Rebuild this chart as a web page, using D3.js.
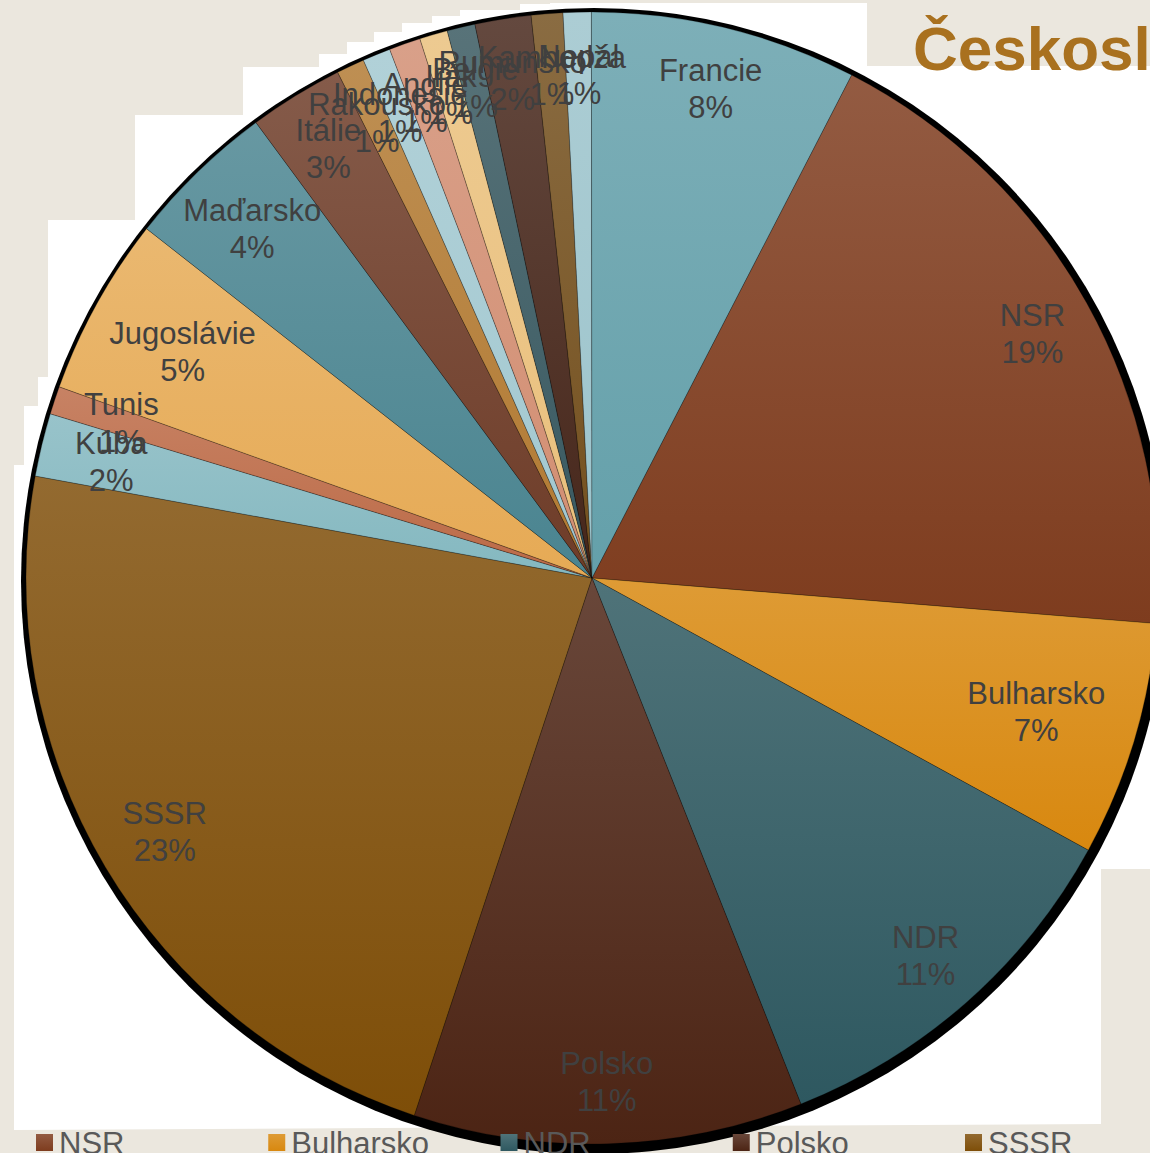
<!DOCTYPE html>
<html><head><meta charset="utf-8">
<script src="https://cdn.jsdelivr.net/npm/d3@7"></script>
<style>html,body{margin:0;padding:0;background:#ebe7de;overflow:hidden}svg{display:block}</style>
</head><body>
<svg id="chart" width="1150" height="1153"></svg>
<script>
// ---- data (shares, percent of total) ----
const countries = ["NSR","Bulharsko","NDR","Polsko","SSSR","Kuba","Tunis","Jugoslávie","Maďarsko","Itálie","Rakousko","Indonesie","Anglie","Irák","Belgie","Rumunsko","Kambodža","Nepál","Francie"];
const values    = [18.7, 6.7, 11.0, 11.1, 22.8, 1.8, 0.8, 5.1, 4.3, 2.7, 0.8, 0.8, 0.9, 0.8, 0.8, 1.6, 0.9, 0.8, 7.6];
const colors    = ["#7e3c1e","#d8880f","#2e5860","#4c2414","#7e4e08","#84b8c0","#bc6a46","#e6aa55","#4a8490","#6e3c28","#b27a32","#a2c8d0","#d28e72","#eac07c","#385860","#46261a","#74501e","#9cc4cc","#64a0aa"];
const legendItems = ["NSR","Bulharsko","NDR","Polsko","SSSR"];
const title = "Československo";
const firstSliceAngle = 27.3; // degrees

const W = 1150, H = 1153;
const cx = 592, cy = 578, R = 566;
const svg = d3.select("#chart");
const defs = svg.append("defs");

function gradId(i){ return "g"+i; }
colors.forEach((c,i)=>{
  const g = defs.append("linearGradient").attr("id",gradId(i))
    .attr("x1",0).attr("y1",0).attr("x2",0).attr("y2",1);
  g.append("stop").attr("offset","0%").attr("stop-color", d3.interpolateRgb(c,"#ffffff")(0.16));
  g.append("stop").attr("offset","100%").attr("stop-color", c);
});

// background + white plot area
svg.append("rect").attr("width",W).attr("height",H).attr("fill","#ebe7de");
const stairs = [[550,3],[867,3],[867,66],[1150,66],[1150,869],[1101,869],[1101,1124],[14,1130],[14,465],[24,465],[24,406],[38,406],[38,377],[48,377],[48,220],[135,220],[135,115],[243,115],[243,67],[319,67],[319,54],[347,54],[347,42],[374,42],[374,32],[402,32],[402,23],[432,23],[432,16],[460,16],[460,10],[520,10],[520,4],[550,4]];
svg.append("path").attr("d", d3.line()(stairs)+"Z").attr("fill","#ffffff");

// title
svg.append("text").attr("x",913).attr("y",70)
  .attr("font-family","'Liberation Sans', Arial, sans-serif").attr("font-weight","bold")
  .attr("font-size",62).attr("fill","#a9711f").text(title);

// shadow
svg.append("circle").attr("cx",cx+2).attr("cy",cy+3).attr("r",R+7).attr("fill","#000");

// pie
const total = d3.sum(values);
const data = countries.map((c,i)=>({name:c, value:values[i], idx:i}));
const a0 = firstSliceAngle*Math.PI/180;
const pie = d3.pie().value(d=>d.value).sort(null).startAngle(a0).endAngle(a0+2*Math.PI);
const arcs = pie(data);
const arc = d3.arc().innerRadius(0).outerRadius(R);
const g = svg.append("g").attr("transform",`translate(${cx},${cy})`);
g.selectAll("path.slice").data(arcs).enter().append("path")
  .attr("class","slice").attr("d",arc)
  .attr("fill",d=>`url(#${gradId(d.data.idx)})`)
  .attr("stroke","rgba(0,0,0,0.35)").attr("stroke-width",0.7);

// labels
const fs = 31, lh = 37;
const font = "'Liberation Sans', Arial, sans-serif";
const measure = svg.append("text").attr("font-family",font).attr("font-size",fs).attr("visibility","hidden");
function textW(s){ measure.text(s); return measure.node().getComputedTextLength(); }
arcs.forEach(d=>{
  const pct = Math.round(d.data.value/total*100)+"%";
  const w = Math.max(textW(d.data.name), textW(pct));
  const mid = (d.startAngle+d.endAngle)/2;
  const gap = 36;
  let r = 0.89*R;
  for(; r>0.6*R; r-=1){
    const x = r*Math.sin(mid), y = -r*Math.cos(mid);
    const chord = Math.sqrt(Math.max(0, R*R - y*y));
    if (Math.abs(x) + w/2 <= chord - gap) break;
  }
  const x = r*Math.sin(mid), y = -r*Math.cos(mid);
  const t = g.append("text").attr("font-family",font).attr("font-size",fs)
    .attr("fill","#404040").attr("text-anchor","middle");
  t.append("tspan").attr("x",x).attr("y",y-lh/2+11).text(d.data.name);
  t.append("tspan").attr("x",x).attr("y",y+lh/2+11).text(pct);
});
measure.remove();

// legend
const lx = d3.scalePoint().domain(legendItems).range([36,965]);
const lg = svg.append("g");
legendItems.forEach(name=>{
  const i = countries.indexOf(name);
  lg.append("rect").attr("x",lx(name)).attr("y",1134).attr("width",17).attr("height",17)
    .attr("fill",`url(#${gradId(i)})`);
  lg.append("text").attr("x",lx(name)+23).attr("y",1154)
    .attr("font-family",font).attr("font-size",31).attr("fill","#595959").text(name);
});
</script>
</body></html>
